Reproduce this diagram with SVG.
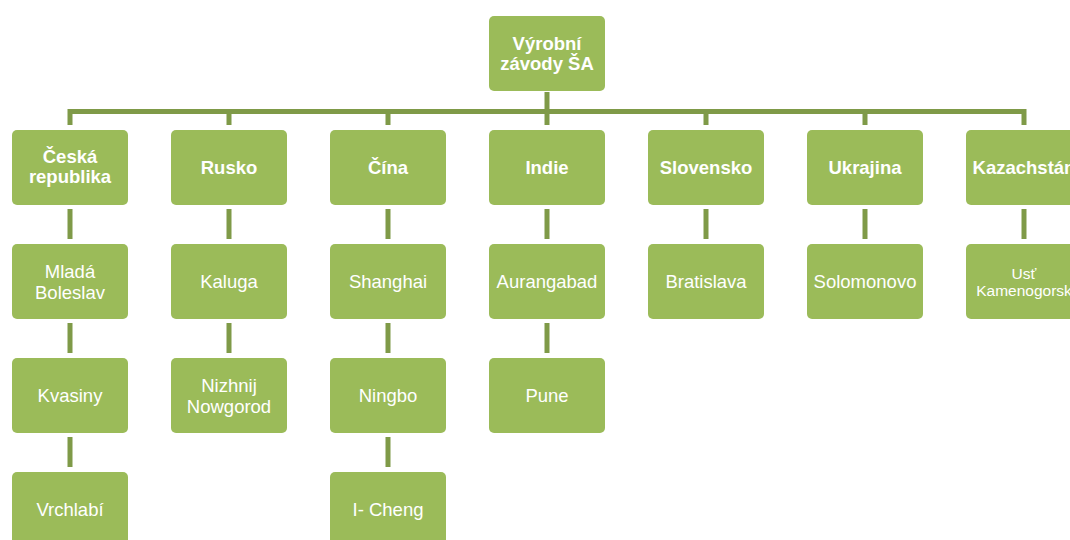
<svg xmlns="http://www.w3.org/2000/svg" width="1070" height="540" viewBox="0 0 1070 540">
<style>
.box{fill:#9bbb59;}
.c{stroke:#7f9a48;stroke-width:5;fill:none;}
.h{font-family:"Liberation Sans",Arial,sans-serif;font-weight:bold;font-size:18.5px;fill:#fff;text-anchor:middle;}
.t{font-family:"Liberation Sans",Arial,sans-serif;font-size:18.5px;fill:#fff;text-anchor:middle;}
.s{font-family:"Liberation Sans",Arial,sans-serif;font-size:15.5px;fill:#fff;text-anchor:middle;}
</style>
<rect width="1070" height="540" fill="#fff"/>
<g id="connectors">
<path class="c" d="M70,125 V111.5 H1024 V125"/>
<path class="c" d="M547,92 V125"/>
<path class="c" d="M229,111.5 V125 M388,111.5 V125 M706,111.5 V125 M865,111.5 V125"/>
<path class="c" d="M70,209 V239 M70,323 V353 M70,437 V467"/>
<path class="c" d="M229,209 V239 M229,323 V353"/>
<path class="c" d="M388,209 V239 M388,323 V353 M388,437 V467"/>
<path class="c" d="M547,209 V239 M547,323 V353"/>
<path class="c" d="M706,209 V239"/>
<path class="c" d="M865,209 V239"/>
<path class="c" d="M1024,209 V239"/>
</g>
<g id="root"><rect class="box" x="489" y="16" width="116" height="75" rx="5"/><text class="h" x="547" y="50">Výrobní</text><text class="h" x="547" y="70">závody ŠA</text></g>
<g id="cz"><rect class="box" x="12" y="130" width="116" height="75" rx="5"/><text class="h" x="70" y="163">Česká</text><text class="h" x="70" y="183">republika</text></g>
<g id="ru"><rect class="box" x="171" y="130" width="116" height="75" rx="5"/><text class="h" x="229" y="174">Rusko</text></g>
<g id="cn"><rect class="box" x="330" y="130" width="116" height="75" rx="5"/><text class="h" x="388" y="174">Čína</text></g>
<g id="in"><rect class="box" x="489" y="130" width="116" height="75" rx="5"/><text class="h" x="547" y="174">Indie</text></g>
<g id="sk"><rect class="box" x="648" y="130" width="116" height="75" rx="5"/><text class="h" x="706" y="174">Slovensko</text></g>
<g id="ua"><rect class="box" x="807" y="130" width="116" height="75" rx="5"/><text class="h" x="865" y="174">Ukrajina</text></g>
<g id="kz"><rect class="box" x="966" y="130" width="116" height="75" rx="5"/><text class="h" x="1024" y="174">Kazachstán</text></g>
<g id="mb"><rect class="box" x="12" y="244" width="116" height="75" rx="5"/><text class="t" x="70" y="278">Mladá</text><text class="t" x="70" y="299">Boleslav</text></g>
<g id="kv"><rect class="box" x="12" y="358" width="116" height="75" rx="5"/><text class="t" x="70" y="402">Kvasiny</text></g>
<g id="vr"><rect class="box" x="12" y="472" width="116" height="75" rx="5"/><text class="t" x="70" y="516">Vrchlabí</text></g>
<g id="ka"><rect class="box" x="171" y="244" width="116" height="75" rx="5"/><text class="t" x="229" y="288">Kaluga</text></g>
<g id="nn"><rect class="box" x="171" y="358" width="116" height="75" rx="5"/><text class="t" x="229" y="392">Nizhnij</text><text class="t" x="229" y="413">Nowgorod</text></g>
<g id="sh"><rect class="box" x="330" y="244" width="116" height="75" rx="5"/><text class="t" x="388" y="288">Shanghai</text></g>
<g id="nb"><rect class="box" x="330" y="358" width="116" height="75" rx="5"/><text class="t" x="388" y="402">Ningbo</text></g>
<g id="ic"><rect class="box" x="330" y="472" width="116" height="75" rx="5"/><text class="t" x="388" y="516">I- Cheng</text></g>
<g id="au"><rect class="box" x="489" y="244" width="116" height="75" rx="5"/><text class="t" x="547" y="288">Aurangabad</text></g>
<g id="pu"><rect class="box" x="489" y="358" width="116" height="75" rx="5"/><text class="t" x="547" y="402">Pune</text></g>
<g id="br"><rect class="box" x="648" y="244" width="116" height="75" rx="5"/><text class="t" x="706" y="288">Bratislava</text></g>
<g id="so"><rect class="box" x="807" y="244" width="116" height="75" rx="5"/><text class="t" x="865" y="288">Solomonovo</text></g>
<g id="uk"><rect class="box" x="966" y="244" width="116" height="75" rx="5"/><text class="s" x="1024" y="279">Usť</text><text class="s" x="1024" y="296">Kamenogorsk</text></g>
</svg>
